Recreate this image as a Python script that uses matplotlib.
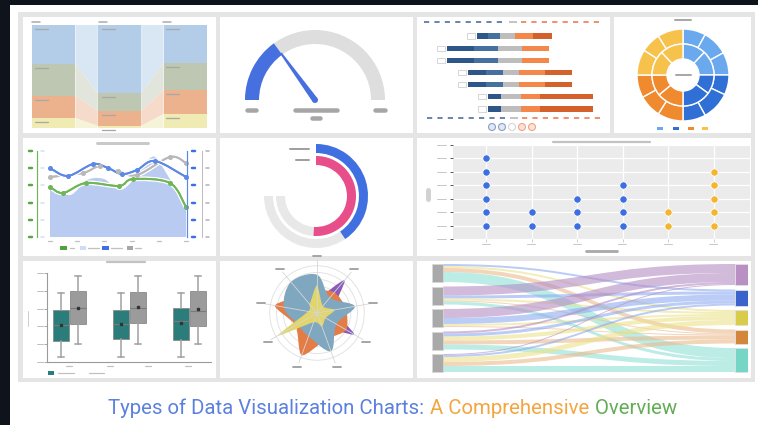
import numpy as np
import matplotlib
matplotlib.use("Agg")
import matplotlib.pyplot as plt
from matplotlib.path import Path
from matplotlib.patches import PathPatch, Wedge, Rectangle, Circle, Polygon
import matplotlib.patheffects as pe

# ================= DATA =================
title_parts = ["Types of Data Visualization Charts:", " A Comprehensive", " Overview"]
title_colors = ["#5b80de", "#f2a540", "#62ad54"]

# Panel A - parallel sets (stacked stages)
alluvial_stage1 = [39, 32, 22, 10]
alluvial_stage2 = [68, 18, 15, 2]
alluvial_stage3 = [38, 27, 24, 14]

# Panel B - gauge
gauge_value = 30
gauge_max = 100

# Panel C - stacked ranges
gantt_start = [25, 5, 5, 19, 19, 32, 32]
gantt_seg1 = [7, 18, 18, 12, 12, 9, 9]
gantt_seg2 = [8, 16, 16, 11, 11, 0, 0]
gantt_seg3 = [10, 16, 16, 11, 11, 13, 13]
gantt_seg4 = [12, 18, 18, 17, 17, 13, 13]
gantt_seg5 = [13, 0, 0, 18, 18, 35, 35]

# Panel D - sunburst
sun_inner = [12, 13, 10, 15, 14, 11, 13, 12]
sun_outer = [8, 9, 8, 7, 10, 8, 9, 8, 8, 9, 7, 9]

# Panel E - multi-axis lines + area
area_x = [0, 0.74, 1.36, 1.99, 2.57, 3.13, 3.68, 4.04, 5.0]
area_y = [2.91, 2.44, 3.31, 3.37, 2.73, 3.43, 4.59, 4.30, 1.74]
green_x = [0, 0.48, 1.32, 2.54, 3.05, 4.41, 5.0]
green_y = [2.91, 2.56, 3.14, 2.97, 3.37, 3.14, 1.74]
blue_x = [0, 0.66, 1.58, 2.13, 2.65, 3.20, 3.86, 5.0]
blue_y = [4.01, 3.55, 4.24, 4.01, 3.66, 3.90, 4.42, 3.49]
gray_x = [0, 1.21, 1.84, 2.50, 3.20, 4.41, 5.0]
gray_y = [3.49, 3.72, 4.13, 3.84, 3.60, 4.65, 4.30]

# Panel F - radial bars
radial_values = [54, 68]
radial_max = 100

# Panel G - dot plot
dot_counts = [6, 2, 3, 4, 2, 5]

# Panel H - box plots
box_q1 = [1.18, 2.13, 1.29, 2.19, 1.24, 2.02]
box_med = [2.08, 3.03, 2.13, 3.03, 2.30, 2.87]
box_q3 = [2.92, 3.99, 2.92, 3.93, 3.03, 3.99]
box_lo = [0.28, 1.01, 0.28, 1.01, 0.28, 1.01]
box_hi = [3.88, 4.83, 3.88, 4.83, 3.88, 4.83]
box_mean = [2.08, 3.03, 2.13, 3.10, 2.19, 2.98]

# Panel I - radar (9 axes)
radar_blue = [0.85, 0.45, 0.85, 0.50, 0.90, 0.55, 0.50, 0.75, 0.90]
radar_orange = [0.50, 0.60, 0.65, 0.75, 0.62, 1.00, 0.55, 0.95, 0.50]
radar_purple = [0.30, 0.95, 0.40, 0.95, 0.30, 0.30, 0.60, 0.30, 0.30]
radar_yellow = [0.62, 0.20, 0.40, 0.22, 0.32, 0.22, 1.00, 0.20, 0.25]

# Panel J - sankey (rows: 5 sources, cols: purple, blue, yellow, orange, teal)
sankey_flows = [[0, 2, 2, 4, 10],
                [9, 3, 2, 1, 3],
                [9, 6, 2, 1, 0],
                [2, 3, 4, 4, 5],
                [1, 2, 5, 4, 6]]

# ================= SETUP =================
W, H = 758, 425
PX = 0.72
fig = plt.figure(figsize=(W / 100, H / 100), dpi=100)
fig.patch.set_facecolor("white")


def rect(x0, y0, x1, y1):
    return [x0 / W, 1 - y1 / H, (x1 - x0) / W, (y1 - y0) / H]


def pax(x0, y0, x1, y1, z=2):
    ax = fig.add_axes(rect(x0, y0, x1, y1), zorder=z)
    ax.set_axis_off()
    ax.patch.set_alpha(0)
    return ax


def smooth(xs, ys, closed=False, t=1 / 6):
    P = np.column_stack([xs, ys]).astype(float)
    n = len(P)
    verts = [P[0]]
    codes = [Path.MOVETO]
    rng = range(n) if closed else range(n - 1)
    for i in rng:
        if closed:
            p0, p1, p2, p3 = P[(i - 1) % n], P[i], P[(i + 1) % n], P[(i + 2) % n]
        else:
            p0, p1, p2, p3 = P[max(i - 1, 0)], P[i], P[i + 1], P[min(i + 2, n - 1)]
        verts += [p1 + (p2 - p0) * t, p2 - (p3 - p1) * t, p2]
        codes += [Path.CURVE4] * 3
    if closed:
        verts.append(P[0])
        codes.append(Path.CLOSEPOLY)
    return verts, codes


bg = fig.add_axes([0, 0, 1, 1], zorder=0)
bg.set_xlim(0, W); bg.set_ylim(H, 0); bg.set_axis_off()
top = fig.add_axes([0, 0, 1, 1], zorder=30)
top.set_xlim(0, W); top.set_ylim(H, 0); top.set_axis_off(); top.patch.set_alpha(0)


def prect(ax, x0, y0, x1, y1, fc, ec="none", lw=0, z=1):
    ax.add_patch(Rectangle((x0, y0), x1 - x0, y1 - y0, facecolor=fc,
                           edgecolor=ec, linewidth=lw, zorder=z))


def dash(x0, x1, y, w=2, c="#b4b4b4", ax=None):
    (ax or top).plot([x0, x1], [y, y], color=c, lw=w * PX,
                     solid_capstyle="round", zorder=5)


def vdash(x, y0, y1, w=2, c="#b4b4b4"):
    top.plot([x, x], [y0, y1], color=c, lw=w * PX, solid_capstyle="round", zorder=5)


prect(bg, 0, 0, W, 5, "#0e131c")
prect(bg, 0, 0, 10, H, "#0e131c")
prect(bg, 18, 12, 755, 382, "#e5e5e5")
panels = [(23, 17, 216, 133), (220, 17, 413, 133), (417, 17, 610, 133), (614, 17, 751, 133),
          (23, 138, 216, 256), (220, 138, 413, 256), (417, 138, 751, 256),
          (23, 261, 216, 378), (220, 261, 413, 378), (417, 261, 751, 378)]
for p in panels:
    prect(bg, *p, "white")

# ================= PANEL A =================
axA = pax(32, 25, 207, 128)
axA.set_xlim(-0.33, 2.33); axA.set_ylim(103, 0)
stages = [alluvial_stage1, alluvial_stage2, alluvial_stage3]
colsA = ["#b3cde9", "#bdc7b1", "#ecb18d", "#efebb2"]
flowA = ["#d5e4f3", "#dfe3d8", "#f5d8c6", "#f6f3d4"]
bw = 0.66
cums = [np.concatenate([[0], np.cumsum(s)[:-1]]) for s in stages]
for i in range(2):
    a, b = stages[i], stages[i + 1]
    ca, cb = cums[i], cums[i + 1]
    xa, xb = i + bw / 2, i + 1 - bw / 2
    for k in range(4):
        axA.fill([xa, xb, xb, xa], [ca[k], cb[k], cb[k] + b[k], ca[k] + a[k]],
                 color=flowA[k], alpha=0.9, lw=0)
for i, st in enumerate(stages):
    axA.bar([i] * 4, st, bottom=cums[i], width=bw, color=colsA, linewidth=0)
colpx = [32, 99, 163]
for i, st in enumerate(stages):
    dash(colpx[i], colpx[i] + 8, 22, w=1.5, c="#a9a9a9")
    for k in range(4):
        y = 25 + cums[i][k] + 4
        dash(colpx[i] + 3, colpx[i] + 16, y, w=1.3, c="#a8a8a8")

# ================= PANEL B =================
axB = pax(240, 25, 390, 175)
axB.set_xlim(-75, 75); axB.set_ylim(-75, 75)
frac = gauge_value / gauge_max
ang = 180 - 180 * frac
axB.add_patch(Wedge((0, 0), 70, 0, 180, width=14, fc="#dedede", ec="none"))
axB.add_patch(Wedge((0, 0), 70, ang, 180, width=14, fc="#4670e0", ec="none"))
a = np.deg2rad(ang)
d = np.array([np.cos(a), np.sin(a)]); nrm = np.array([-d[1], d[0]])
axB.add_patch(Polygon([3 * nrm, 58 * d + 1 * nrm, 58 * d - 1 * nrm, -3 * nrm],
                      closed=True, fc="#4670e0", ec="none"))
axB.add_patch(Circle((0, 0), 3, fc="#4670e0", ec="none"))
for (x0, x1, y) in [(-68, -59, -10), (-20, 22, -10), (60, 70, -10), (-3, 5, -18)]:
    axB.plot([x0, x1], [y, y], color="#a6a6a6", lw=4.5 * PX, solid_capstyle="round")

# ================= PANEL C =================
axC = pax(420, 17, 605, 130)
axC.set_xlim(-13.33, 110); axC.set_ylim(7.72, -1.56)
rows = np.arange(len(gantt_start))
segs = [gantt_seg1, gantt_seg2, gantt_seg3, gantt_seg4, gantt_seg5]
gcols = ["#2e5688", "#46719f", "#bdbdbd", "#f4874a", "#d4602c"]
left = np.array(gantt_start, float)
for s, c in zip(segs, gcols):
    axC.barh(rows, s, left=left, height=0.42, color=c, linewidth=0)
    left = left + np.array(s)
axC.barh(rows, 5.3, left=np.array(gantt_start) - 6.8, height=0.42, color="white",
         edgecolor="#d0d0d0", linewidth=0.6)
for y, (b0, b1, g0, g1, o0, o1) in [(22, (424, 506, 510, 516, 521, 601)),
                                     (118, (427, 508, 511, 517, 522, 603))]:
    top.plot([b0, b1], [y, y], color="#6c86ad", lw=2 * PX, ls=(0, (2.6, 2.6)), zorder=5)
    top.plot([g0, g1], [y, y], color="#c4c4c4", lw=2 * PX, zorder=5)
    top.plot([o0, o1], [y, y], color="#f0926a", lw=2 * PX, ls=(0, (2.6, 2.6)), zorder=5)
for cx, ec, fc in [(492, "#8aa0c8", "#e2e8f3"), (502, "#8aa0c8", "#e2e8f3"),
                   (512, "#d6d6d6", "white"), (522, "#f2a585", "#fbe3d8"),
                   (532, "#f2a585", "#fbe3d8")]:
    top.add_patch(Circle((cx, 127), 3.5, fc=fc, ec=ec, lw=0.8, zorder=5))

# ================= PANEL D =================
axD = pax(635, 27, 731, 123)
sun_colors = ["#6aa9ee", "#2f6fd6", "#ef8a2f", "#f6c24c"]
oc = [sun_colors[i // 3] for i in range(len(sun_outer))]
ic = [sun_colors[i // 2] for i in range(len(sun_inner))]
axD.pie(sun_outer, radius=46, colors=oc, startangle=90, counterclock=False,
        wedgeprops=dict(width=15, edgecolor="white", linewidth=1.0))
axD.pie(sun_inner, radius=31, colors=ic, startangle=90, counterclock=False,
        wedgeprops=dict(width=15, edgecolor="white", linewidth=1.0))
axD.set_xlim(-48, 48); axD.set_ylim(-48, 48); axD.set_aspect("equal")
dash(675, 691, 20, w=2, c="#a8a8a8")
dash(676, 691, 75, w=2, c="#a8a8a8")
for cx, c in zip([660, 676, 691, 705], sun_colors):
    prect(top, cx - 3, 126.5, cx + 3, 129.5, c, z=5)

# ================= PANEL E =================
axE = pax(50, 151, 186, 237)
axE.set_xlim(0, 5); axE.set_ylim(0, 5)
v, c = smooth(area_x, area_y)
v = v + [(5, 0), (0, 0), (area_x[0], area_y[0])]
c = c + [Path.LINETO, Path.LINETO, Path.CLOSEPOLY]
axE.add_patch(PathPatch(Path(v, c), fc="#b9cbf0", ec="none"))
halo = [pe.withStroke(linewidth=3.4, foreground="white")]
for xs, ys, col in [(gray_x, gray_y, "#b8b8b8"), (blue_x, blue_y, "#5d88e6"),
                    (green_x, green_y, "#6fb658")]:
    v, c = smooth(xs, ys)
    pp = PathPatch(Path(v, c), fill=False, ec=col, lw=1.9 * PX, clip_on=False)
    pp.set_path_effects(halo + [pe.Normal()])
    axE.add_patch(pp)
    axE.plot(xs, ys, "o", ms=2.6, color=col, clip_on=False, zorder=4)
dash(97, 148, 143, w=3, c="#c9c9c9")
ticksE = 237 - 17.2 * np.arange(6)
top.plot([37, 37], [151, 237], color="#6fb658", lw=1.2 * PX, zorder=5)
top.plot([187, 187], [151, 237], color="#5d88e6", lw=1.2 * PX, zorder=5)
top.plot([202, 202], [151, 237], color="#bdbdbd", lw=1.0 * PX, zorder=5)
for y in ticksE:
    dash(28.5, 31.5, y, w=2.5, c="#5aa546")
    dash(41, 44, y, w=1.5, c="#d2def6")
    dash(191.5, 195, y, w=2.5, c="#3f6fe0")
    dash(206, 209, y, w=1.5, c="#b0b0b0")
for x in 50 + 27.2 * np.arange(6):
    dash(x - 2, x + 2, 241, w=1.3, c="#c2c2c2")
prect(top, 60, 246, 67, 250, "#4fa33e", z=5); dash(70, 74, 248, w=1.3, c="#c0c0c0")
prect(top, 80, 246, 86, 250, "#cfdcf6", z=5); dash(88, 99, 248, w=1.3, c="#c0c0c0")
prect(top, 102, 246, 109, 250, "#3f6fe0", z=5); dash(111, 122, 248, w=1.3, c="#c0c0c0")
prect(top, 127, 246, 133, 250, "#a6a6a6", z=5); dash(135, 141, 248, w=1.3, c="#c0c0c0")

# ================= PANEL F =================
axF = pax(260, 140, 372, 252)
axF.set_xlim(-56, 56); axF.set_ylim(-56, 56)
span = 270
ringsF = [(52, 9, "#3f6fe0"), (40, 9, "#e84f8a")]
for (r, w, col), val in zip(ringsF, radial_values):
    axF.add_patch(Wedge((0, 0), r, 180, 450, width=w, fc="#e8e8e8", ec="none"))
    axF.add_patch(Wedge((0, 0), r, 90 - span * val / radial_max, 90, width=w, fc=col, ec="none"))
dash(290, 309, 149, w=2, c="#a0a0a0")
dash(296, 309, 160, w=2, c="#a0a0a0")

# ================= PANEL G =================
axG = fig.add_axes(rect(453, 145, 750, 239), zorder=2)
axG.set_facecolor("#ebebeb")
axG.set_xlim(-0.73, 5.8); axG.set_ylim(0, 7)
axG.set_xticks(range(len(dot_counts))); axG.set_yticks(range(8))
axG.set_axisbelow(True)
axG.grid(True, color="white", lw=1.3 * PX)
for s in axG.spines.values():
    s.set_visible(False)
axG.tick_params(axis="y", length=2.5, width=0.7, color="#555555", labelleft=False)
axG.tick_params(axis="x", length=2.5, width=0.7, color="#cccccc", labelbottom=False)
dot_colors = ["#3d6fe2", "#3d6fe2", "#3d6fe2", "#3d6fe2", "#f4b630", "#f4b630"]
for i, (n, col) in enumerate(zip(dot_counts, dot_colors)):
    axG.plot([i] * n, np.arange(1, n + 1), "o", ms=5.3, mfc=col, mec="white", mew=0.6,
             clip_on=False)
for k in range(8):
    dash(437, 446, 239 - 13.43 * k, w=1.0, c="#c8c8c8")
for i in range(len(dot_counts)):
    cx = 486 + 45.4 * i
    dash(cx - 4, cx + 4, 243.5, w=1.0, c="#c8c8c8")
dash(553, 650, 142, w=2.2, c="#c2c2c2")
dash(586, 617, 251, w=2.8, c="#a9a9a9")
vdash(428, 190, 199, w=5, c="#d2d2d2")

# ================= PANEL H =================
axH = fig.add_axes(rect(47, 273, 211, 362), zorder=2)
axH.patch.set_alpha(0)
axH.set_xlim(-0.375, 2.36); axH.set_ylim(0, 5)
stats = [dict(q1=box_q1[k], med=box_med[k], q3=box_q3[k], whislo=box_lo[k],
              whishi=box_hi[k], mean=box_mean[k], fliers=[]) for k in range(len(box_q1))]
pos = [g + o for g in range(3) for o in (-0.142, 0.142)]
bp = axH.bxp(stats, positions=pos, widths=0.27, patch_artist=True, showmeans=True,
             boxprops=dict(edgecolor="#8a8a8a", linewidth=0.6),
             whiskerprops=dict(color="#a0a0a0", linewidth=1.1),
             capprops=dict(color="#a0a0a0", linewidth=1.1),
             medianprops=dict(color="#7a7a7a", linewidth=0.8),
             meanprops=dict(marker="s", markersize=2.0, markerfacecolor="#333333",
                            markeredgecolor="#333333"),
             capwidths=0.09)
for k, b in enumerate(bp["boxes"]):
    b.set_facecolor(["#2b7d7c", "#9b9b9b"][k % 2])
axH.spines["top"].set_visible(False); axH.spines["right"].set_visible(False)
for s in ("left", "bottom"):
    axH.spines[s].set_color("#9a9a9a"); axH.spines[s].set_linewidth(0.8)
axH.set_yticks(range(6)); axH.set_xticks([])
axH.tick_params(axis="y", length=2, width=0.6, color="#9a9a9a", labelleft=False)
for k in range(6):
    dash(37, 43, 362 - 17.8 * k, w=1.0, c="#c0c0c0")
for x in [69, 110, 148, 188]:
    dash(x - 3, x + 3, 366, w=1.2, c="#c0c0c0")
dash(107, 145, 262, w=2.2, c="#c2c2c2")
vdash(28, 311, 326, w=1.0, c="#cfcfcf")
prect(top, 48, 371, 54, 375, "#2b7d7c", z=5)
dash(58, 74, 373, w=1.2, c="#c0c0c0")
dash(89, 104, 373, w=1.2, c="#c0c0c0")

# ================= PANEL I =================
axI = pax(257, 253, 377, 373)
axI.set_xlim(-60, 60); axI.set_ylim(-60, 60)
R = 45
nA = len(radar_blue)
theta = np.deg2rad(90 - 360 / nA * np.arange(nA))
for rr in [0.45, 0.6, 0.75, 0.9, 1.05]:
    axI.add_patch(Circle((0, 0), rr * R, fill=False, ec="#e3e3e3", lw=0.7))
for t in theta:
    axI.plot([0, 1.18 * R * np.cos(t)], [0, 1.18 * R * np.sin(t)], color="#d6d6d6", lw=0.6)
for vals, col, tens in [(radar_purple, "#8a5bb8", 0.12), (radar_orange, "#e47c46", 0.12),
                        (radar_blue, "#80a7c0", 0.17), (radar_yellow, "#e2d56a", 0.12)]:
    r = R * np.array(vals)
    v, c = smooth(r * np.cos(theta), r * np.sin(theta), closed=True, t=tens)
    axI.add_patch(PathPatch(Path(v, c), fc=col, ec="none"))
for t in theta:
    cx, cy = 1.27 * R * np.cos(t), 1.27 * R * np.sin(t)
    axI.plot([cx - 4, cx + 4], [cy, cy], color="#9e9e9e", lw=1.8 * PX,
             solid_capstyle="round", clip_on=False)

# ================= PANEL J =================
axJ = pax(432, 262, 748, 373)
axJ.set_xlim(0, 316); axJ.set_ylim(109, -2)
F = np.array(sankey_flows, float)
ltot, rtot = F.sum(1), F.sum(0)
gL = (108 - ltot.sum()) / (len(ltot) - 1)
gR = (108 - rtot.sum()) / (len(rtot) - 1)
ltop = np.concatenate([[0], np.cumsum(ltot[:-1] + gL)])
rtop = np.concatenate([[0], np.cumsum(rtot[:-1] + gR)])
node_cols = ["#b890c4", "#3b63cc", "#d9cc4a", "#d4873a", "#76d6c6"]
flow_cols = ["#b48cc4", "#8eaaf0", "#ece28c", "#ecb98c", "#8fe0d4"]
xl, xr = 11, 303
xm = (xl + xr) / 2
lc, rc = ltop.copy(), rtop.copy()
for i in range(F.shape[0]):
    for j in range(F.shape[1]):
        val = F[i, j]
        if val <= 0:
            continue
        y0, y1 = lc[i], rc[j]
        lc[i] += val; rc[j] += val
        verts = [(xl, y0), (xm, y0), (xm, y1), (xr, y1), (xr, y1 + val),
                 (xm, y1 + val), (xm, y0 + val), (xl, y0 + val), (xl, y0)]
        codes = [Path.MOVETO, Path.CURVE4, Path.CURVE4, Path.CURVE4, Path.LINETO,
                 Path.CURVE4, Path.CURVE4, Path.CURVE4, Path.CLOSEPOLY]
        axJ.add_patch(PathPatch(Path(verts, codes), fc=flow_cols[j], ec="none", alpha=0.6))
for i in range(len(ltot)):
    axJ.add_patch(Rectangle((0, ltop[i]), 11, ltot[i], fc="#a9a9a9", ec="#d8d8d8", lw=0.6))
for j in range(len(rtot)):
    axJ.add_patch(Rectangle((303, rtop[j]), 13, rtot[j], fc=node_cols[j], ec="#e0e0e0", lw=0.6))

# ================= TITLE =================
renderer = fig.canvas.get_renderer()
fs0 = 14
widths = []
for s in title_parts:
    t = fig.text(0, 0, s, fontsize=fs0, family="Roboto")
    widths.append(t.get_window_extent(renderer).width)
    t.remove()
target = 570.0
fs = fs0 * target / sum(widths)
x = 108.0
for s, col, w in zip(title_parts, title_colors, widths):
    fig.text(x / W, 1 - 414 / H, s, fontsize=fs, family="Roboto", color=col,
             va="baseline", ha="left")
    x += w * fs / fs0

fig.savefig("out.png", dpi=100, facecolor="white")
